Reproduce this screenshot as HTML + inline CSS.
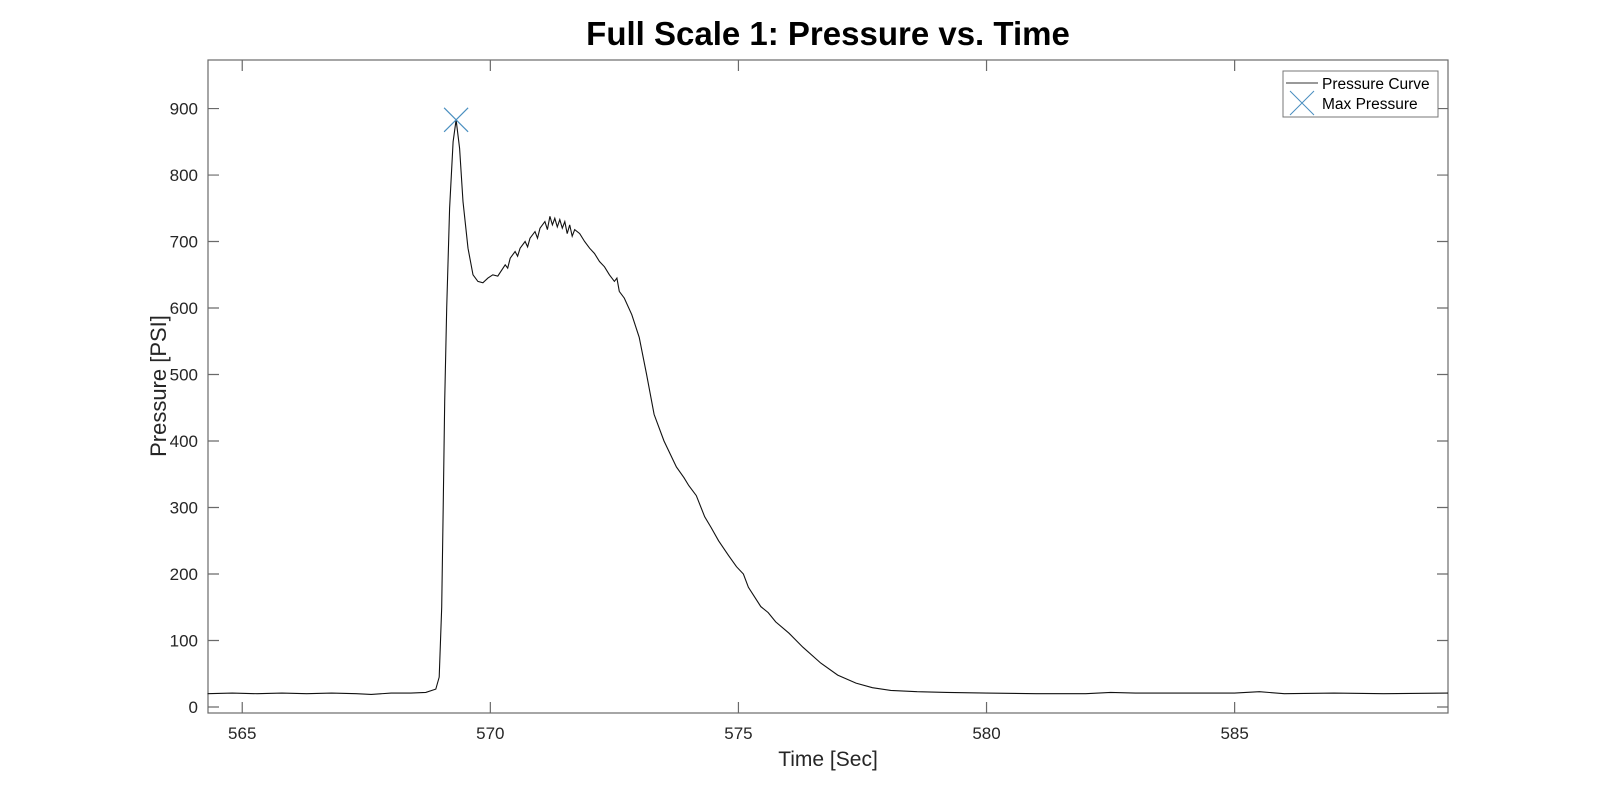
<!DOCTYPE html>
<html><head><meta charset="utf-8"><style>
body{margin:0;background:#fff;}
svg{display:block;font-family:"Liberation Sans",Arial,sans-serif;}
</style></head><body>
<svg id="chart" width="1600" height="802">
<rect x="0" y="0" width="1600" height="802" fill="#fff"/>
<text x="828" y="45" text-anchor="middle" font-size="33" font-weight="bold" fill="#000">Full Scale 1: Pressure vs. Time</text>
<g id="axes"></g>
<g id="plot"></g>
<text x="828" y="766" text-anchor="middle" font-size="21" fill="#262626">Time [Sec]</text>
<text transform="translate(166,386) rotate(-90)" text-anchor="middle" font-size="22" fill="#262626">Pressure [PSI]</text>
<g>
<rect x="1283" y="71" width="155" height="46" fill="#fff" stroke="#777" stroke-width="1"/>
<line x1="1286" y1="83" x2="1318" y2="83" stroke="#333" stroke-width="1"/>
<text x="1322" y="89" font-size="15.5" fill="#000">Pressure Curve</text>
<path d="M1290,91 L1314,115 M1314,91 L1290,115" stroke="#4a8fc0" stroke-width="1"/>
<text x="1322" y="109" font-size="15.5" fill="#000">Max Pressure</text>
</g>
</svg>
<script>
const times=[564.3,564.8,565.3,565.8,566.3,566.8,567.3,567.6,568.0,568.4,568.7,568.9,568.97,569.02,569.05,569.08,569.12,569.18,569.25,569.31,569.38,569.45,569.55,569.65,569.75,569.85,569.95,570.05,570.15,570.3,570.35,570.4,570.5,570.55,570.6,570.7,570.75,570.8,570.9,570.95,571.0,571.1,571.15,571.2,571.25,571.3,571.35,571.4,571.45,571.5,571.55,571.6,571.65,571.7,571.8,571.9,572.0,572.1,572.2,572.3,572.4,572.5,572.55,572.6,572.7,572.85,573.0,573.15,573.3,573.5,573.75,573.9,574.0,574.15,574.32,574.45,574.6,574.8,574.96,575.1,575.2,575.45,575.6,575.75,576.02,576.3,576.66,577.0,577.37,577.7,578.07,578.6,579.2,580,581,582,582.5,583,584,585,585.5,586,587,588,589.3];
const pressures=[20,21,20,21,20,21,20,19,21,21,22,27,45,150,300,460,600,750,850,883,840,760,690,650,640,638,645,650,648,665,660,675,685,678,690,700,692,705,715,705,720,730,718,738,725,735,722,733,720,730,712,725,708,718,712,700,690,682,670,662,650,640,645,625,615,590,556,500,440,400,361,345,333,318,286,270,250,228,211,200,180,151,142,128,111,90,66,48,36,29,25,23,22,21,20,20,22,21,21,21,23,20,21,20,21];
const xTicks=[565,570,575,580,585];
const yTicks=[0,100,200,300,400,500,600,700,800,900];
const xMin=564.31,xMax=589.3,yMin=-9,yMax=973;
const L=208,R=1448,T=60,B=713;
const sx=t=>L+(t-xMin)/(xMax-xMin)*(R-L);
const sy=v=>B-(v-yMin)/(yMax-yMin)*(B-T);
const NS="http://www.w3.org/2000/svg";
const axes=document.getElementById('axes'),plot=document.getElementById('plot');
function mk(tag,attrs,parent){const e=document.createElementNS(NS,tag);for(const k in attrs)e.setAttribute(k,attrs[k]);parent.appendChild(e);return e;}
const box=mk('rect',{x:L,y:T,width:R-L,height:B-T,fill:'none',stroke:'#6a6a6a','stroke-width':1.2},axes);


xTicks.forEach(t=>{const x=sx(t);
 const a=mk('path',{d:`M${x},${B} V${B-11} M${x},${T} V${T+11}`,stroke:'#6a6a6a','stroke-width':1.2},axes);
 
 
 const tx=mk('text',{x:x,y:B+26,'text-anchor':'middle','font-size':17,fill:'#262626'},axes);tx.textContent=t;
 
 });
yTicks.forEach(v=>{const y=sy(v);
 const a=mk('path',{d:`M${L},${y} H${L+11} M${R},${y} H${R-11}`,stroke:'#6a6a6a','stroke-width':1.2},axes);
 
 
 const tx=mk('text',{x:L-10,y:y+6,'text-anchor':'end','font-size':17,fill:'#262626'},axes);tx.textContent=v;
 
 });
const d=times.map((t,i)=>(i?'L':'M')+sx(t).toFixed(1)+','+sy(pressures[i]).toFixed(1)).join(' ');
const line=mk('path',{d:d,fill:'none',stroke:'#111','stroke-width':1.1},plot);


let mi=0;pressures.forEach((p,i)=>{if(p>pressures[mi])mi=i;});
const mx=sx(times[mi]),my=sy(pressures[mi]);
const m=mk('path',{d:`M${mx-12},${my-12} L${mx+12},${my+12} M${mx+12},${my-12} L${mx-12},${my+12}`,stroke:'#4a8fc0','stroke-width':1.2},plot);


</script>
</body></html>
